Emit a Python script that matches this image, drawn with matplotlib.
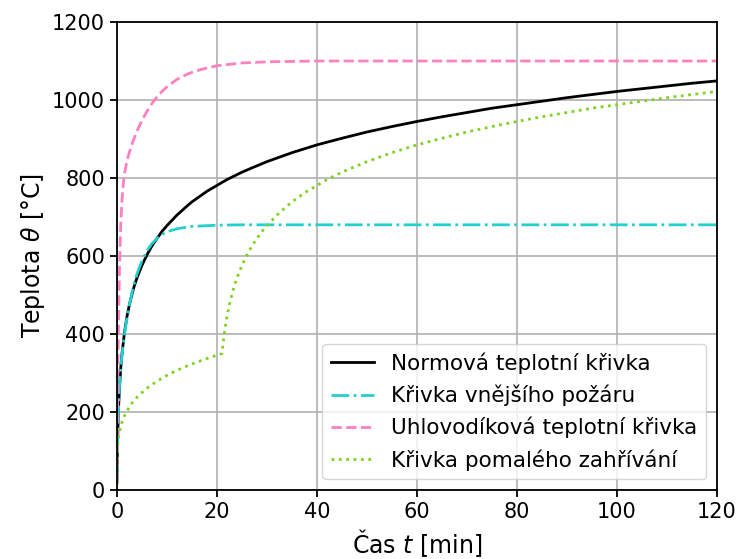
import matplotlib
matplotlib.use('Agg')
import matplotlib.pyplot as plt

# Normová teplotní křivka (ISO 834)
t_iso = [0, 0.05, 0.1, 0.15, 0.25, 0.35, 0.5, 0.75, 1, 1.5, 2, 2.5, 3, 3.5, 4, 5, 6, 7, 8, 9, 10,
         12, 14, 15, 17, 18, 20, 22, 25, 27, 30, 35, 40, 45, 50, 55, 60, 65, 70, 75, 80, 85,
         90, 95, 100, 105, 110, 115, 120]
T_iso = [20, 70, 108, 138, 185, 220, 261, 312, 349, 404, 445, 476, 502, 525, 544, 576, 603, 626, 645, 663, 678,
         705, 728, 739, 757, 766, 781, 796, 815, 826, 842, 865, 885, 902, 918, 932, 945, 957, 968, 979, 988, 997,
         1006, 1014, 1022, 1029, 1036, 1043, 1049]

# Křivka vnějšího požáru
t_ext = [0, 0.05, 0.1, 0.25, 0.35, 0.5, 0.75, 1, 1.25, 1.5, 2, 2.5, 3, 3.5, 4, 5, 6, 7, 8, 9, 10,
         12, 15, 20, 25, 30, 120]
T_ext = [20, 63, 100, 182, 220, 263, 311, 346, 374, 399, 441, 476, 506, 532, 554, 588, 614, 632, 645, 655, 662,
         670, 676, 679, 680, 680, 680]

# Uhlovodíková teplotní křivka
t_hc = [0, 0.05, 0.1, 0.15, 0.25, 0.35, 0.5, 0.75, 1, 1.25, 1.5, 2, 2.5, 3, 4, 5, 6, 7, 8, 9, 10,
        12, 14, 15, 17, 20, 25, 30, 35, 40, 120]
T_hc = [20, 109, 187, 257, 373, 465, 568, 679, 743, 783, 810, 844, 867, 887, 920, 948, 971, 991, 1008, 1022, 1034,
        1053, 1066, 1071, 1079, 1088, 1095, 1098, 1099, 1100, 1100]

# Křivka pomalého zahřívání
t_slow = [0, 0.05, 0.1, 0.25, 0.5, 1, 1.5, 2, 3, 4, 5, 6, 7, 8, 10, 12, 14, 16, 18, 20, 21,
          21.25, 21.5, 21.75, 22, 22.5, 23, 23.5, 24, 25, 26, 27, 28, 29, 30, 32, 34, 35, 37, 38,
          40, 42, 45, 47, 50, 55, 60, 65, 70, 75, 80, 85, 90, 95, 100, 105, 110, 115, 120]
T_slow = [20, 93, 107, 129, 150, 174, 190, 203, 223, 238, 250, 261, 270, 279, 294, 307, 318, 328, 337, 346, 350,
          379, 404, 426, 445, 476, 502, 525, 544, 576, 603, 626, 645, 663, 678, 705, 728, 739, 757, 766,
          781, 796, 815, 826, 842, 865, 885, 902, 918, 932, 945, 957, 968, 979, 988, 997, 1006, 1014, 1022]

plt.rcParams['font.size'] = 15

fig = plt.figure(figsize=(7.38, 5.59), dpi=100)
ax = fig.add_axes([0.1585, 0.1234, 0.813, 0.8372])

ax.plot(t_iso, T_iso, color='black', lw=2, label='Normová teplotní křivka')
ax.plot(t_ext, T_ext, color='#22d0d0', lw=2, ls='-.', label='Křivka vnějšího požáru')
ax.plot(t_hc, T_hc, color='#ff80c0', lw=2, ls='--', label='Uhlovodíková teplotní křivka')
ax.plot(t_slow, T_slow, color='#7fd320', lw=2, ls=':', label='Křivka pomalého zahřívání')

ax.set_xlim(0, 120)
ax.set_ylim(0, 1200)
ax.set_xticks(range(0, 121, 20))
ax.set_yticks(range(0, 1201, 200))
ax.grid(True, color='#b0b0b0', lw=1.2)
for s in ax.spines.values():
    s.set_linewidth(1.3)
ax.tick_params(width=1.3, length=5)

ax.set_xlabel('Čas $t$ [min]', fontsize=17)
ax.set_ylabel('Teplota $\\theta$ [°C]', fontsize=17)
ax.legend(loc='lower right', fontsize=15.5)

fig.savefig('out.png', dpi=100)
